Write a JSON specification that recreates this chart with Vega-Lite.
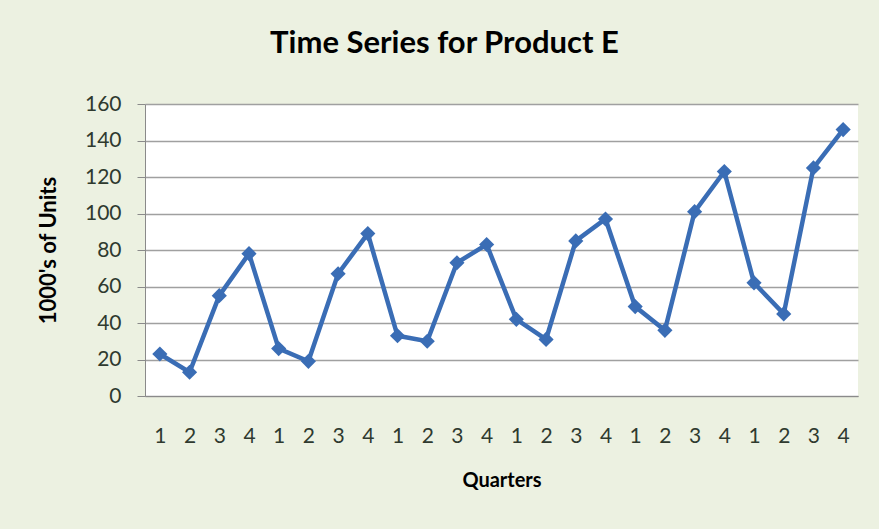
{
  "$schema": "https://vega.github.io/schema/vega-lite/v6.json",
  "width": 713,
  "height": 292,
  "autosize": "none",
  "padding": {"left": 145, "top": 104, "right": 21, "bottom": 133},
  "background": "#ecf1e1",
  "title": {
    "text": "Time Series for Product E",
    "font": "Lato",
    "fontSize": 31,
    "fontWeight": "bold",
    "color": "#000000",
    "anchor": "middle",
    "dx": -57,
    "offset": 33
  },
  "config": {
    "view": {"fill": "#ffffff", "stroke": null},
    "axis": {
      "labelFont": "Lato",
      "titleFont": "Lato",
      "labelFontSize": 21,
      "titleFontSize": 22,
      "labelColor": "#2f3a2f",
      "titleColor": "#000000",
      "titleFontWeight": "bold",
      "domainColor": "#8a8a8a",
      "gridColor": "#a0a0a0",
      "gridWidth": 1.3,
      "tickColor": "#8a8a8a"
    }
  },
  "data": {
    "values": [
      {"t": 1, "q": 1, "units": 23},
      {"t": 2, "q": 2, "units": 13},
      {"t": 3, "q": 3, "units": 55},
      {"t": 4, "q": 4, "units": 78},
      {"t": 5, "q": 1, "units": 26},
      {"t": 6, "q": 2, "units": 19},
      {"t": 7, "q": 3, "units": 67},
      {"t": 8, "q": 4, "units": 89},
      {"t": 9, "q": 1, "units": 33},
      {"t": 10, "q": 2, "units": 30},
      {"t": 11, "q": 3, "units": 73},
      {"t": 12, "q": 4, "units": 83},
      {"t": 13, "q": 1, "units": 42},
      {"t": 14, "q": 2, "units": 31},
      {"t": 15, "q": 3, "units": 85},
      {"t": 16, "q": 4, "units": 97},
      {"t": 17, "q": 1, "units": 49},
      {"t": 18, "q": 2, "units": 36},
      {"t": 19, "q": 3, "units": 101},
      {"t": 20, "q": 4, "units": 123},
      {"t": 21, "q": 1, "units": 62},
      {"t": 22, "q": 2, "units": 45},
      {"t": 23, "q": 3, "units": 125},
      {"t": 24, "q": 4, "units": 146}
    ]
  },
  "encoding": {
    "x": {
      "field": "t",
      "type": "ordinal",
      "scale": {"type": "point", "padding": 0.5},
      "axis": {
        "title": "Quarters",
        "titleFontSize": 20,
        "labelAngle": 0,
        "labelExpr": "((datum.value - 1) % 4) + 1",
        "ticks": false,
        "domain": true,
        "labelPadding": 29,
        "titlePadding": 24
      }
    },
    "y": {
      "field": "units",
      "type": "quantitative",
      "scale": {"domain": [0, 160], "nice": false},
      "axis": {
        "title": "1000's of Units",
        "values": [0, 20, 40, 60, 80, 100, 120, 140, 160],
        "tickSize": 8,
        "labelPadding": 16,
        "titlePadding": 24
      }
    }
  },
  "layer": [
    {"mark": {"type": "line", "color": "#3a6db5", "strokeWidth": 4.5}},
    {"mark": {"type": "point", "shape": "diamond", "filled": true, "size": 230, "color": "#3a6db5", "opacity": 1}}
  ]
}
